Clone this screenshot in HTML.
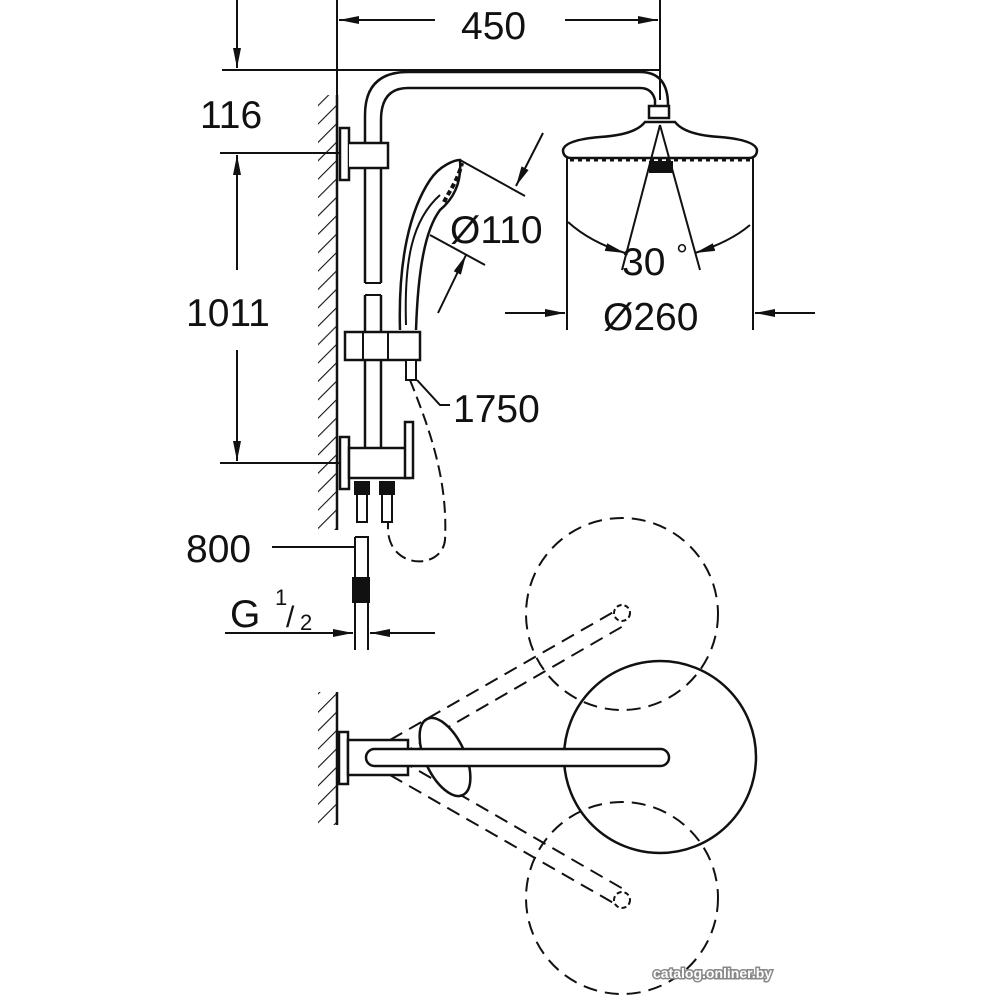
<!DOCTYPE html>
<html><head><meta charset="utf-8"><style>
html,body{margin:0;padding:0;background:#fff;}
svg{display:block;}
text{font-family:"Liberation Sans",sans-serif;fill:#111;}
</style></head><body>
<svg width="1000" height="1000" viewBox="0 0 1000 1000" xmlns="http://www.w3.org/2000/svg">
<defs>
<marker id="a" viewBox="0 0 20 10" refX="20" refY="5" markerWidth="20" markerHeight="10" markerUnits="userSpaceOnUse" orient="auto"><path d="M0,1 L20,5 L0,9 Z" fill="#111"/></marker>
<pattern id="h" width="13" height="13" patternUnits="userSpaceOnUse" patternTransform="rotate(45)"><line x1="0" y1="0" x2="0" y2="13" stroke="#111" stroke-width="2.2"/></pattern>
</defs>
<g fill="none" stroke="#111" stroke-width="2">
<line x1="337" y1="0" x2="337" y2="130"/>
<line x1="660" y1="0" x2="660" y2="100"/>
<line x1="435" y1="20" x2="339" y2="20" marker-end="url(#a)"/>
<line x1="565" y1="20" x2="658" y2="20" marker-end="url(#a)"/>
<line x1="237" y1="0" x2="237" y2="68" marker-end="url(#a)"/>
<line x1="222" y1="70" x2="660" y2="70"/>
<line x1="220" y1="153" x2="345" y2="153"/>
<line x1="237" y1="270" x2="237" y2="155" marker-end="url(#a)"/>
<line x1="237" y1="350" x2="237" y2="461" marker-end="url(#a)"/>
<line x1="220" y1="463" x2="345" y2="463"/>
<rect x="318" y="95" width="19" height="435" fill="url(#h)" stroke="none"/>
<line x1="337" y1="95" x2="337" y2="530" stroke-width="2.5"/>
<path d="M365,470 L365,115 Q365,72 408,72 L640,72 Q668,72 668,105" stroke-width="2.5"/>
<path d="M381,470 L381,120 Q381,88 408,88 L640,88 Q652,88 655,100 L655,105" stroke-width="2.5"/>
<rect x="362" y="283" width="22" height="12" fill="#fff" stroke="none"/>
<line x1="365" y1="283" x2="381" y2="283"/><line x1="365" y1="295" x2="381" y2="295"/>
<rect x="340" y="128" width="9" height="52" fill="#fff" stroke-width="2.5"/>
<path d="M349,143 L388,143 L388,168 L349,168" fill="#fff" stroke-width="2.5"/>
<rect x="340" y="437" width="9" height="52" fill="#fff" stroke-width="2.5"/>
<rect x="349" y="448" width="60" height="30" fill="#fff" stroke-width="2.5"/>
<rect x="405" y="422" width="8" height="56" fill="#fff" stroke-width="2.5"/>
<rect x="345" y="332" width="75" height="28" fill="#fff" stroke-width="2.5"/>
<line x1="363" y1="332" x2="363" y2="360"/><line x1="388" y1="332" x2="388" y2="360"/>
<rect x="406" y="360" width="10" height="20" fill="#fff"/>
<rect x="355" y="482" width="14" height="12" fill="#111"/>
<rect x="380" y="482" width="14" height="12" fill="#111"/>
<rect x="357" y="494" width="10" height="28"/>
<rect x="382" y="494" width="10" height="28"/>
<path d="M400,330 C398,260 410,210 430,180 C440,165 455,160 460,160 C462,185 452,200 440,210 C425,230 418,270 416,330" fill="#fff" stroke-width="2.5"/>
<path d="M444,202 C450,190 458,180 462,163" stroke-width="4" stroke-dasharray="5 3"/>
<path d="M406,325 C404,260 412,220 440,195"/>
<line x1="460" y1="160" x2="525" y2="196"/>
<line x1="430" y1="235" x2="485" y2="265"/>
<line x1="543" y1="133" x2="516" y2="186" marker-end="url(#a)"/>
<line x1="438" y1="313" x2="466" y2="255" marker-end="url(#a)"/>
<path d="M410,380 C430,430 448,480 445,540 C442,570 390,570 388,530 L388,522" stroke-dasharray="12 6"/>
<path d="M417,380 L440,405 L450,405"/>
<rect x="649" y="106" width="20" height="12" fill="#fff" stroke-width="2.5"/>
<path d="M563,150 Q565,140 600,137 Q635,135 645,122 L675,122 Q685,135 720,137 Q755,140 757,150 Q757,157 750,158 L570,158 Q563,157 563,150 Z" fill="#fff" stroke-width="2.5"/>
<line x1="570" y1="160" x2="750" y2="160" stroke-width="3" stroke-dasharray="4 4"/>
<rect x="650" y="162" width="22" height="10" fill="#111"/>
<line x1="567" y1="158" x2="567" y2="330"/>
<line x1="753" y1="158" x2="753" y2="330"/>
<line x1="660" y1="125" x2="622" y2="270"/>
<line x1="660" y1="125" x2="700" y2="270"/>
<path d="M568,222 Q590,242 625,253" marker-end="url(#a)"/>
<path d="M750,225 Q730,242 695,253" marker-end="url(#a)"/>
<line x1="505" y1="313" x2="565" y2="313" marker-end="url(#a)"/>
<line x1="815" y1="313" x2="755" y2="313" marker-end="url(#a)"/>
<line x1="272" y1="547" x2="356" y2="547"/>
<path d="M355,537 L368,537 L368,650 M355,650 L355,537"/>
<rect x="353" y="578" width="16" height="24" fill="#111"/>
<line x1="225" y1="633" x2="353" y2="633" marker-end="url(#a)"/>
<line x1="435" y1="633" x2="370" y2="633" marker-end="url(#a)"/>
<rect x="318" y="692" width="19" height="133" fill="url(#h)" stroke="none"/>
<line x1="337" y1="692" x2="337" y2="825" stroke-width="2.5"/>
<rect x="339" y="732" width="9" height="52" fill="#fff" stroke-width="2.5"/>
<rect x="348" y="740" width="60" height="35" fill="#fff" stroke-width="2.5"/>
<circle cx="622" cy="614" r="96" stroke-dasharray="14 8"/>
<circle cx="622" cy="898" r="96" stroke-dasharray="14 8"/>
<line x1="390" y1="740" x2="617" y2="610" stroke-dasharray="14 8"/>
<line x1="400" y1="755" x2="625" y2="625" stroke-dasharray="14 8"/>
<line x1="390" y1="775" x2="617" y2="905" stroke-dasharray="14 8"/>
<line x1="400" y1="760" x2="625" y2="890" stroke-dasharray="14 8"/>
<circle cx="622" cy="613" r="8" stroke-dasharray="5 3"/>
<circle cx="622" cy="900" r="8" stroke-dasharray="5 3"/>
<ellipse cx="445" cy="757" rx="20" ry="42" transform="rotate(-25 445 757)" fill="#fff" stroke-width="2.5"/>
<circle cx="660" cy="757" r="96" stroke-width="2.5"/>
<rect x="366" y="749" width="303" height="17" rx="8.5" fill="#fff" stroke-width="2.5"/>
</g>
<text x="461" y="39" font-size="39">450</text>
<text x="200" y="128" font-size="39">116</text>
<text x="186" y="326" font-size="39">1011</text>
<text x="450" y="243" font-size="39">Ø110</text>
<text x="622" y="275" font-size="39">30</text>
<text x="676" y="265" font-size="30">°</text>
<text x="603" y="330" font-size="39">Ø260</text>
<text x="453" y="422" font-size="39">1750</text>
<text x="186" y="562" font-size="39">800</text>
<text x="230" y="627" font-size="39">G</text>
<text x="275" y="605" font-size="22">1</text>
<text x="286" y="627" font-size="30">/</text>
<text x="300" y="630" font-size="22">2</text>
<text x="653" y="978" font-size="14" font-weight="bold" style="fill:#fff;stroke:#888;stroke-width:3;paint-order:stroke">catalog.onliner.by</text>
</svg>
</body></html>
